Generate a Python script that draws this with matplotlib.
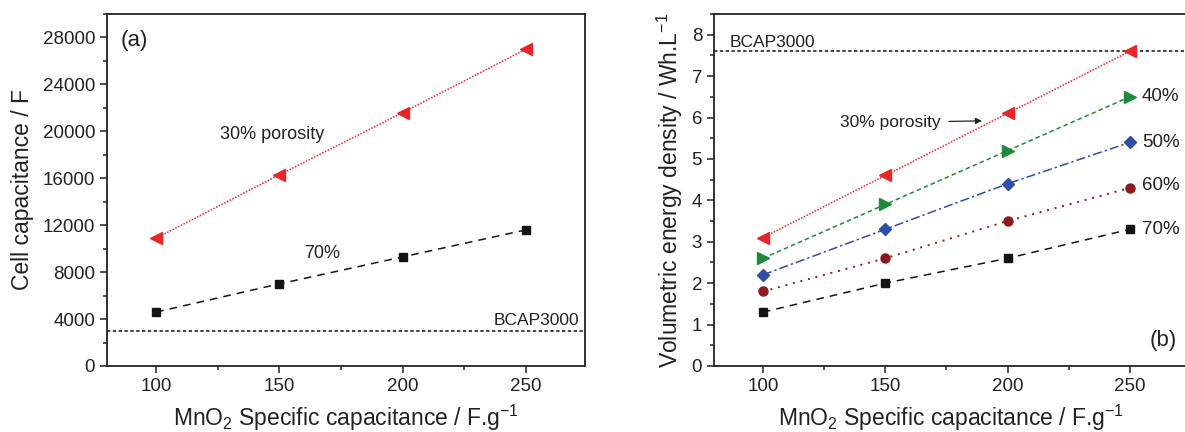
import matplotlib
matplotlib.use("Agg")
import matplotlib.pyplot as plt
from matplotlib.ticker import MultipleLocator

plt.rcParams['font.family'] = ['Liberation Sans', 'DejaVu Sans']
plt.rcParams['mathtext.default'] = 'regular'

# ---- data ----
x_mno2 = [100, 150, 200, 250]
cap_30 = [10900, 16300, 21600, 27000]
cap_70 = [4600, 7000, 9300, 11600]
bcap_cap = 3000

ed_30 = [3.1, 4.6, 6.1, 7.6]
ed_40 = [2.6, 3.9, 5.2, 6.5]
ed_50 = [2.2, 3.3, 4.4, 5.4]
ed_60 = [1.8, 2.6, 3.5, 4.3]
ed_70 = [1.3, 2.0, 2.6, 3.3]
bcap_ed = 7.6

x_ticks = [100, 150, 200, 250]
xlabel = r'MnO$_2$ Specific capacitance / F.g$^{-1}$'

RED = '#e8262a'
GREEN = '#1f8a3b'
BLUE = '#2f4fa6'
DRED = '#8a1a1e'
BLACK = '#141414'
TXT = '#222222'

fig = plt.figure(figsize=(11.85, 4.32), dpi=100)
ax1 = fig.add_axes([0.0903, 0.1528, 0.4034, 0.8148])
ax2 = fig.add_axes([0.6025, 0.1528, 0.4005, 0.8148])

def style(ax):
    for s in ax.spines.values():
        s.set_linewidth(1.3)
        s.set_color(TXT)
    ax.tick_params(which='both', direction='out', top=False, right=False,
                   labelsize=13.5, width=1.1, color=TXT, labelcolor=TXT)
    ax.tick_params(which='major', length=5)
    ax.tick_params(which='minor', length=3)
    ax.set_xlim(80, 274)
    ax.set_xticks(x_ticks)
    ax.xaxis.set_minor_locator(MultipleLocator(25))
    ax.set_xlabel(xlabel, fontsize=16.5, labelpad=6, color=TXT)

# ---- panel (a) ----
style(ax1)
ax1.set_ylim(0, 30000)
ax1.yaxis.set_major_locator(MultipleLocator(4000))
ax1.yaxis.set_minor_locator(MultipleLocator(2000))
ax1.axhline(bcap_cap, color=TXT, ls=(0, (2, 1.5)), lw=1.2)
ax1.plot(x_mno2, cap_30, color=RED, ls=(0, (1, 1)), lw=1.1, marker='<',
         ms=8, mec=RED, mfc=RED)
ax1.plot(x_mno2, cap_70, color=BLACK, ls=(0, (5, 4)), lw=1.1, marker='s',
         ms=5.5, mec=BLACK, mfc=BLACK)
ax1.set_ylabel('Cell capacitance / F', fontsize=16.5, labelpad=6, color=TXT)
ax1.text(0.028, 0.925, '(a)', transform=ax1.transAxes, fontsize=16,
         va='center', ha='left', color=TXT)
ax1.text(126, 19700, '30% porosity', fontsize=13, va='center', ha='left', color=TXT)
ax1.text(160, 9600, '70%', fontsize=13, va='center', ha='left', color=TXT)
ax1.text(271.5, 3250, 'BCAP3000', fontsize=12.5, va='bottom', ha='right', color=TXT)

# ---- panel (b) ----
style(ax2)
ax2.set_ylim(0, 8.5)
ax2.yaxis.set_major_locator(MultipleLocator(1))
ax2.yaxis.set_minor_locator(MultipleLocator(0.5))
ax2.axhline(bcap_ed, color=TXT, ls=(0, (2, 1.5)), lw=1.2)
ax2.plot(x_mno2, ed_30, color=RED, ls=(0, (1, 1)), lw=1.1, marker='<',
         ms=8, mec=RED, mfc=RED)
ax2.plot(x_mno2, ed_40, color=GREEN, ls=(0, (3, 2)), lw=1.1, marker='>',
         ms=8, mec=GREEN, mfc=GREEN)
ax2.plot(x_mno2, ed_50, color=BLUE, ls=(0, (6, 2, 1.5, 2)), lw=1.1, marker='D',
         ms=6.5, mec=BLUE, mfc=BLUE)
ax2.plot(x_mno2, ed_60, color=DRED, ls=(0, (1, 3)), lw=1.4, marker='o',
         ms=6.5, mec=DRED, mfc=DRED)
ax2.plot(x_mno2, ed_70, color=BLACK, ls=(0, (5, 4)), lw=1.1, marker='s',
         ms=5.5, mec=BLACK, mfc=BLACK)
ax2.set_ylabel(r'Volumetric energy density / Wh.L$^{-1}$', fontsize=16.5,
               labelpad=5, color=TXT)
ax2.text(86.5, 7.82, 'BCAP3000', fontsize=12.5, va='center', ha='left', color=TXT)
ax2.annotate('30% porosity', xy=(189.5, 5.92), xytext=(131.5, 5.88),
             fontsize=12.5, va='center', ha='left', color=TXT,
             arrowprops=dict(arrowstyle='-|>', color=TXT, lw=0.9,
                             mutation_scale=9, shrinkA=4, shrinkB=0))
ax2.text(255, 6.5, '40%', fontsize=13.5, va='center', ha='left', color=TXT)
ax2.text(255, 5.4, '50%', fontsize=13.5, va='center', ha='left', color=TXT)
ax2.text(255, 4.35, '60%', fontsize=13.5, va='center', ha='left', color=TXT)
ax2.text(255, 3.3, '70%', fontsize=13.5, va='center', ha='left', color=TXT)
ax2.text(258, 0.62, '(b)', fontsize=16, va='center', ha='left', color=TXT)

fig.savefig('out.png', dpi=100)
